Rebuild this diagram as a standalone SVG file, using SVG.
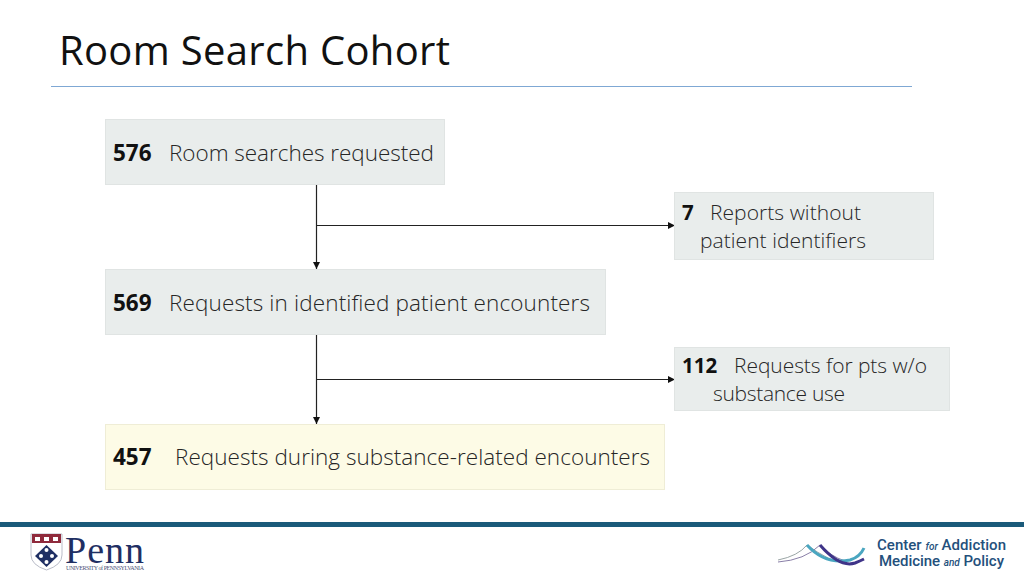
<svg xmlns="http://www.w3.org/2000/svg" width="1024" height="576" viewBox="0 0 1024 576">
<style>
text{font-family:"Open Sans","Noto Sans",sans-serif;fill:#262626}
.box{fill:#e9edec;stroke:#e0e4e3;stroke-width:1}
.t{font-size:22.500px;font-weight:300}
.n{font-size:22.500px;font-weight:700;fill:#111}
.s{font-size:21px;font-weight:300}
.m{font-size:20.500px;font-weight:700;fill:#111}
.c{fill:none;stroke:#222;stroke-width:1.2}
.lg{font-family:"Roboto","Liberation Sans",sans-serif;font-size:15px;font-weight:500;fill:#24507c}
</style>
<defs><marker id="a" markerUnits="userSpaceOnUse" markerWidth="7" markerHeight="7" refX="7" refY="3.5" orient="auto"><path d="M0 0L7 3.5L0 7Z" fill="#111"/></marker></defs>
<rect width="1024" height="576" fill="#fff"/>
<text id="title" x="59" y="65" textLength="391" style="font-family:'Open Sans',sans-serif;font-size:40px;font-weight:400;fill:#111">Room Search Cohort</text>
<line x1="51" y1="86.500" x2="912" y2="86.500" stroke="#7fa8d4" stroke-width="1"/>
<g id="connectors">
<line class="c" x1="316.500" y1="185" x2="316.500" y2="269" marker-end="url(#a)"/>
<line class="c" x1="316.500" y1="225.500" x2="675" y2="225.500" marker-end="url(#a)"/>
<line class="c" x1="316.500" y1="335" x2="316.500" y2="424" marker-end="url(#a)"/>
<line class="c" x1="316.500" y1="379.500" x2="675" y2="379.500" marker-end="url(#a)"/>
</g>
<g id="n576"><rect class="box" x="105.500" y="119.500" width="339" height="65"/><text class="n" x="113" y="161">576</text><text class="t" x="169" y="161" textLength="265">Room searches requested</text></g>
<g id="n569"><rect class="box" x="105.500" y="269.500" width="500" height="65"/><text class="n" x="113" y="311">569</text><text class="t" x="169" y="311" textLength="421">Requests in identified patient encounters</text></g>
<g id="n457"><rect x="105.500" y="424.500" width="559" height="65" fill="#fdfbe6" stroke="#efedd6"/><text class="n" x="113" y="465">457</text><text class="t" x="175" y="465" textLength="475">Requests during substance-related encounters</text></g>
<g id="n7"><rect class="box" x="674.500" y="192.500" width="259" height="67"/><text class="m" x="682" y="220">7</text><text class="s" x="710" y="220" textLength="151">Reports without</text><text class="s" x="700" y="248" textLength="166">patient identifiers</text></g>
<g id="n112"><rect class="box" x="674.500" y="347.500" width="275" height="63"/><text class="m" x="682" y="373">112</text><text class="s" x="734" y="373" textLength="193">Requests for pts w/o</text><text class="s" x="713" y="401" textLength="132">substance use</text></g>
<g id="footer">
<rect x="0" y="522" width="1024" height="5" fill="#1a5a7a"/>
<path d="M31 534H62V555Q62 565 46.500 570Q31 565 31 555Z" fill="#fff" stroke="#b9bcc8"/>
<rect x="32" y="534" width="29" height="9" fill="#8f2a3c"/>
<g fill="#fff"><rect x="35" y="537" width="5" height="4"/><rect x="44" y="537" width="5" height="4"/><rect x="53" y="537" width="5" height="4"/></g>
<path d="M46.500 545L58 556L46.500 567L35 556Z" fill="#1f2f63"/>
<g fill="#fff"><circle cx="46.500" cy="550" r="2"/><circle cx="41" cy="556" r="2"/><circle cx="52" cy="556" r="2"/><circle cx="46.500" cy="562" r="2"/></g>
<text x="65" y="563" textLength="79" style="font-family:'Liberation Serif',serif;font-size:38px;fill:#1f2f63">Penn</text>
<text x="66" y="570" textLength="78" style="font-family:'Liberation Serif',serif;font-size:6px;fill:#4a5277">UNIVERSITY of PENNSYLVANIA</text>
<path d="M778 560Q798 556 807 545Q818 553 828 558" fill="none" stroke="#9aa5a5" stroke-width="1"/>
<path d="M778 562Q805 560 820 545Q830 556 845 561" fill="none" stroke="#8a7fa8" stroke-width="1"/>
<path d="M807 545Q825 565 850 560Q860 557 864 548" fill="none" stroke="#4aa6c0" stroke-width="3"/>
<path d="M820 545Q840 568 855 563Q860 561 864 559" fill="none" stroke="#3f3488" stroke-width="3"/>
<text class="lg" x="877" y="550" textLength="129">Center <tspan font-size="10" font-style="italic">for</tspan> Addiction</text>
<text class="lg" x="879" y="566" textLength="125">Medicine <tspan font-size="10" font-style="italic">and</tspan> Policy</text>
</g>
</svg>
